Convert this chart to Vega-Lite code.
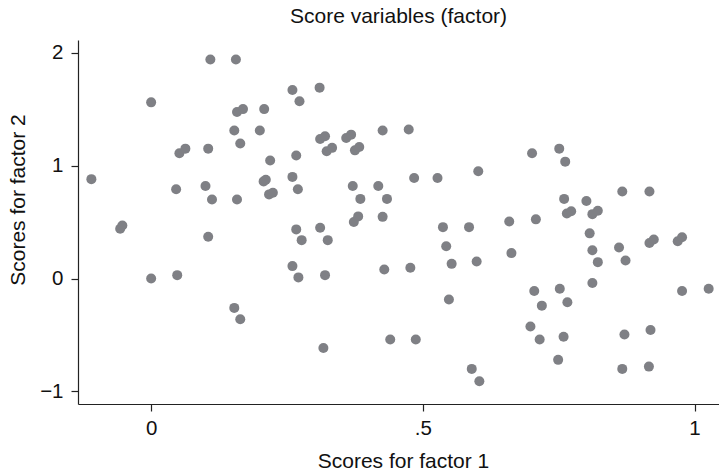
{
  "$schema": "https://vega.github.io/schema/vega-lite/v6.json",
  "autosize": {"type": "none"},
  "padding": {"left": 78, "top": 40, "right": 0, "bottom": 66},
  "width": 641,
  "height": 364,
  "background": "white",
  "title": {
    "text": "Score variables (factor)",
    "font": "Liberation Sans",
    "fontSize": 21,
    "fontWeight": "normal",
    "color": "#111111",
    "anchor": "middle",
    "frame": "group",
    "baseline": "alphabetic",
    "offset": 17,
    "dy": 21
  },
  "config": {
    "view": {"stroke": null},
    "axis": {
      "grid": false,
      "domainColor": "#222222",
      "domainWidth": 1.2,
      "tickColor": "#222222",
      "tickWidth": 1.2,
      "tickSize": 7,
      "labelFont": "Liberation Sans",
      "labelFontSize": 20.5,
      "labelColor": "#111111",
      "titleFont": "Liberation Sans",
      "titleFontSize": 21,
      "titleFontWeight": "normal",
      "titleColor": "#111111"
    }
  },
  "data": {
    "values": [
      {"f1": -0.11, "f2": 0.88}, {"f1": -0.057, "f2": 0.44}, {"f1": -0.053, "f2": 0.47},
      {"f1": 0.0, "f2": 1.56}, {"f1": 0.0, "f2": 0.0}, {"f1": 0.048, "f2": 0.03},
      {"f1": 0.046, "f2": 0.79}, {"f1": 0.052, "f2": 1.11}, {"f1": 0.063, "f2": 1.15},
      {"f1": 0.10, "f2": 0.82}, {"f1": 0.105, "f2": 1.15}, {"f1": 0.109, "f2": 1.94},
      {"f1": 0.112, "f2": 0.70}, {"f1": 0.105, "f2": 0.37}, {"f1": 0.153, "f2": 1.31},
      {"f1": 0.153, "f2": -0.26}, {"f1": 0.156, "f2": 1.94}, {"f1": 0.158, "f2": 1.475},
      {"f1": 0.169, "f2": 1.50}, {"f1": 0.158, "f2": 0.70}, {"f1": 0.164, "f2": 1.195},
      {"f1": 0.164, "f2": -0.36}, {"f1": 0.20, "f2": 1.31}, {"f1": 0.208, "f2": 1.50},
      {"f1": 0.207, "f2": 0.86}, {"f1": 0.211, "f2": 0.875}, {"f1": 0.219, "f2": 1.045},
      {"f1": 0.217, "f2": 0.745}, {"f1": 0.224, "f2": 0.76}, {"f1": 0.26, "f2": 1.67},
      {"f1": 0.273, "f2": 1.57}, {"f1": 0.31, "f2": 1.69}, {"f1": 0.267, "f2": 1.09},
      {"f1": 0.26, "f2": 0.90}, {"f1": 0.27, "f2": 0.79}, {"f1": 0.267, "f2": 0.435},
      {"f1": 0.277, "f2": 0.34}, {"f1": 0.26, "f2": 0.11}, {"f1": 0.271, "f2": 0.01},
      {"f1": 0.311, "f2": 1.236}, {"f1": 0.32, "f2": 1.26}, {"f1": 0.311, "f2": 0.45},
      {"f1": 0.325, "f2": 0.34}, {"f1": 0.32, "f2": 0.03}, {"f1": 0.317, "f2": -0.615},
      {"f1": 0.323, "f2": 1.127}, {"f1": 0.333, "f2": 1.157}, {"f1": 0.359, "f2": 1.245},
      {"f1": 0.368, "f2": 1.274}, {"f1": 0.375, "f2": 1.135}, {"f1": 0.383, "f2": 1.165},
      {"f1": 0.371, "f2": 0.82}, {"f1": 0.373, "f2": 0.50}, {"f1": 0.381, "f2": 0.55},
      {"f1": 0.385, "f2": 0.705}, {"f1": 0.418, "f2": 0.82}, {"f1": 0.426, "f2": 1.31},
      {"f1": 0.426, "f2": 0.546}, {"f1": 0.434, "f2": 0.705}, {"f1": 0.429, "f2": 0.08},
      {"f1": 0.44, "f2": -0.54}, {"f1": 0.474, "f2": 1.32}, {"f1": 0.484, "f2": 0.89},
      {"f1": 0.477, "f2": 0.095}, {"f1": 0.487, "f2": -0.54}, {"f1": 0.527, "f2": 0.89},
      {"f1": 0.537, "f2": 0.455}, {"f1": 0.543, "f2": 0.285}, {"f1": 0.553, "f2": 0.13},
      {"f1": 0.548, "f2": -0.185}, {"f1": 0.585, "f2": 0.455}, {"f1": 0.599, "f2": 0.15},
      {"f1": 0.602, "f2": 0.95}, {"f1": 0.59, "f2": -0.80}, {"f1": 0.604, "f2": -0.91},
      {"f1": 0.659, "f2": 0.505}, {"f1": 0.663, "f2": 0.225}, {"f1": 0.701, "f2": 1.11},
      {"f1": 0.708, "f2": 0.524}, {"f1": 0.705, "f2": -0.11}, {"f1": 0.698, "f2": -0.425},
      {"f1": 0.715, "f2": -0.54}, {"f1": 0.719, "f2": -0.24}, {"f1": 0.751, "f2": 1.15},
      {"f1": 0.762, "f2": 1.035}, {"f1": 0.76, "f2": 0.705}, {"f1": 0.765, "f2": 0.575},
      {"f1": 0.773, "f2": 0.595}, {"f1": 0.752, "f2": -0.09}, {"f1": 0.766, "f2": -0.21},
      {"f1": 0.759, "f2": -0.515}, {"f1": 0.749, "f2": -0.72}, {"f1": 0.801, "f2": 0.686},
      {"f1": 0.807, "f2": 0.40}, {"f1": 0.812, "f2": 0.57}, {"f1": 0.822, "f2": 0.60},
      {"f1": 0.812, "f2": 0.25}, {"f1": 0.822, "f2": 0.145}, {"f1": 0.812, "f2": -0.04},
      {"f1": 0.861, "f2": 0.275}, {"f1": 0.867, "f2": 0.77}, {"f1": 0.873, "f2": 0.16},
      {"f1": 0.871, "f2": -0.495}, {"f1": 0.867, "f2": -0.80}, {"f1": 0.917, "f2": 0.77},
      {"f1": 0.917, "f2": 0.315}, {"f1": 0.925, "f2": 0.345}, {"f1": 0.919, "f2": -0.455},
      {"f1": 0.916, "f2": -0.78}, {"f1": 0.969, "f2": 0.33}, {"f1": 0.977, "f2": 0.365},
      {"f1": 0.977, "f2": -0.11}, {"f1": 1.026, "f2": -0.09}
    ]
  },
  "mark": {"type": "circle", "size": 100, "color": "#7f8085", "opacity": 1},
  "encoding": {
    "x": {
      "field": "f1",
      "type": "quantitative",
      "scale": {"domain": [-0.1346, 1.045], "nice": false, "zero": false},
      "axis": {
        "title": "Scores for factor 1",
        "values": [0, 0.5, 1],
        "labelExpr": "datum.value == 0.5 ? '.5' : format(datum.value, 'd')",
        "labelPadding": 7,
        "titleX": 325,
        "titleY": 63,
        "titleBaseline": "alphabetic",
        "titleAlign": "center"
      }
    },
    "y": {
      "field": "f2",
      "type": "quantitative",
      "scale": {"domain": [-1.111, 2.112], "nice": false, "zero": false},
      "axis": {
        "title": "Scores for factor 2",
        "values": [-1, 0, 1, 2],
        "labelExpr": "datum.value < 0 ? '\u2212' + format(-datum.value, 'd') : format(datum.value, 'd')",
        "labelPadding": 8,
        "titleAngle": -90,
        "titleX": -54,
        "titleY": 159.5,
        "titleBaseline": "alphabetic",
        "titleAlign": "center"
      }
    }
  }
}
